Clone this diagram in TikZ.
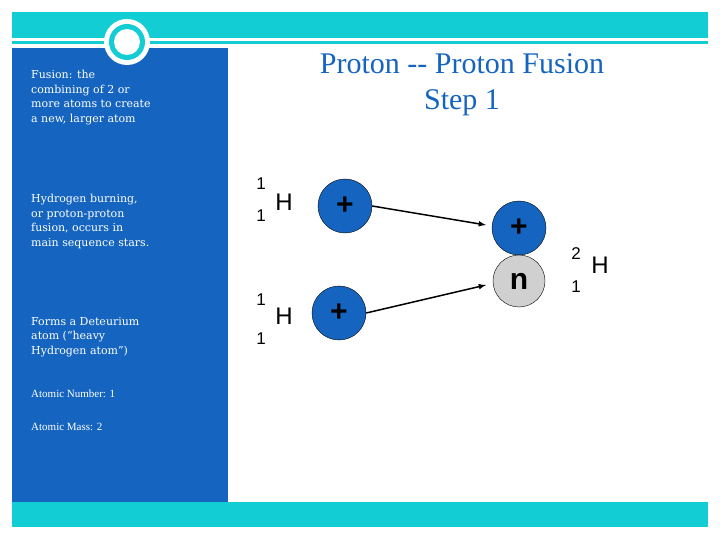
\documentclass[tikz,border=0pt]{standalone}
\usepackage{fontspec}
\setmainfont{DejaVu Serif}
\newfontfamily\arial{Liberation Sans}
\newfontfamily\tnr{Liberation Serif}
\definecolor{teal}{HTML}{12CDD4}
\definecolor{pblue}{HTML}{1565C0}
\definecolor{ngray}{HTML}{D0D0D0}
\tikzset{
 side/.style={anchor=north west,text=white,align=left,font=\fontsize{11}{14.5}\selectfont,inner sep=0},
 sidesmall/.style={anchor=north west,text=white,align=left,font=\tnr\fontsize{11}{14}\selectfont,inner sep=0},
 proton/.style={circle,draw=black,fill=pblue,minimum size=54pt,inner sep=0,font=\arial\bfseries\fontsize{30}{30}\selectfont},
 neutron/.style={circle,draw=black,fill=ngray,minimum size=52pt,inner sep=0,font=\arial\bfseries\fontsize{30}{30}\selectfont},
 lbl/.style={font=\arial\fontsize{17}{17}\selectfont,inner sep=0},
 big/.style={font=\arial\fontsize{24}{24}\selectfont,inner sep=0},
 arr/.style={-latex,line width=1.5pt}
}
\begin{document}
\begin{tikzpicture}[x=1pt,y=-1pt]
\useasboundingbox (0,0) rectangle (720,540);
\fill[white] (0,0) rectangle (720,540);
\fill[teal] (12,12) rectangle (708,38);
\fill[teal] (12,41) rectangle (708,44);
\fill[teal] (12,502) rectangle (708,527);
\fill[pblue] (12,48) rectangle (228,502);
\fill[white] (127,42) circle (23);
\fill[teal] (127,42) circle (18);
\fill[white] (127,42) circle (13);
\node[font=\tnr\fontsize{30}{36}\selectfont,text=pblue,align=center] (title) at (462,85) {Proton -- Proton Fusion\\Step 1};
\node[side] (t1) at (31,70) {Fusion: the\\combining of 2 or\\more atoms to create\\a new, larger atom};
\node[side] (t2) at (31,194) {Hydrogen burning,\\or proton-proton\\fusion, occurs in\\main sequence stars.};
\node[side] (t3) at (31,317) {Forms a Deteurium\\atom (``heavy\\Hydrogen atom'')};
\node[sidesmall] (t4) at (31,390) {Atomic Number: 1};
\node[sidesmall] (t5) at (31,423) {Atomic Mass: 2};
\node[proton] (p1) at (345,206) {+};
\node[proton] (p2) at (339,313) {+};
\node[proton] (p3) at (519,228) {+};
\node[neutron] (n) at (519,281) {n};
\draw[arr] (p1.east) -- (486,225);
\draw[arr] (p2.east) -- (486,285);
\node[lbl] (a1) at (261,184) {1};
\node[lbl] (b1) at (261,216) {1};
\node[big] (h1) at (284,202) {H};
\node[lbl] (a2) at (261,300) {1};
\node[lbl] (b2) at (261,339) {1};
\node[big] (h2) at (284,316) {H};
\node[lbl] (a3) at (576,254) {2};
\node[lbl] (b3) at (576,287) {1};
\node[big] (h3) at (600,265) {H};
\end{tikzpicture}
\end{document}
